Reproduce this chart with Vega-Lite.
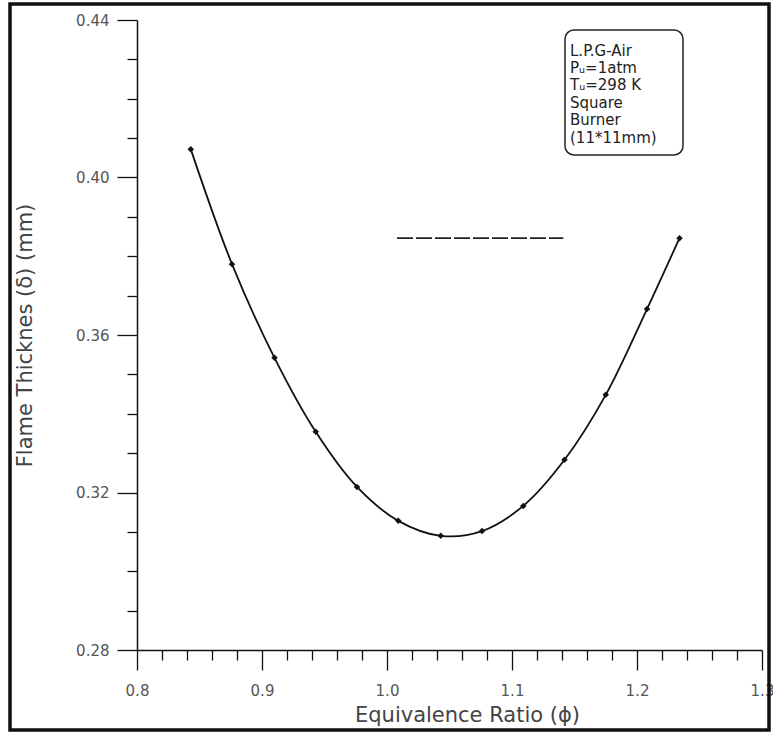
{
  "$schema": "https://vega.github.io/schema/vega-lite/v6.json",
  "width": 625,
  "height": 630,
  "autosize": "none",
  "padding": {"left": 137, "top": 20, "right": 11, "bottom": 87},
  "background": "white",
  "config": {"view": {"stroke": null}, "font": "DejaVu Sans", "axis": {"grid": false}},
  "datasets": {
    "curve": [
      {"phi": 0.843, "delta": 0.4072},
      {"phi": 0.876, "delta": 0.378},
      {"phi": 0.91, "delta": 0.3542},
      {"phi": 0.943, "delta": 0.3354},
      {"phi": 0.976, "delta": 0.3214},
      {"phi": 1.009, "delta": 0.3128},
      {"phi": 1.043, "delta": 0.309},
      {"phi": 1.076, "delta": 0.3102},
      {"phi": 1.109, "delta": 0.3166},
      {"phi": 1.142, "delta": 0.3283},
      {"phi": 1.175, "delta": 0.3448},
      {"phi": 1.208, "delta": 0.3666},
      {"phi": 1.234, "delta": 0.3846}
    ],
    "frame": [{"phi": 0.6984, "phi2": 1.3056, "delta": 0.44406, "delta2": 0.25968}],
    "box": [{"phi": 1.1424, "phi2": 1.2368, "delta": 0.43746, "delta2": 0.40571}],
    "stray": [{"phi": 1.008, "delta": 0.3846}, {"phi": 1.141, "delta": 0.3846}],
    "legend": [
      {"label": "L.P.G-Air", "phi": 1.1464, "delta": 0.43225},
      {"label": "Pᵤ=1atm", "phi": 1.1464, "delta": 0.42781},
      {"label": "Tᵤ=298 K", "phi": 1.1464, "delta": 0.42337},
      {"label": "Square", "phi": 1.1464, "delta": 0.41892},
      {"label": "Burner", "phi": 1.1464, "delta": 0.41448},
      {"label": "(11*11mm)", "phi": 1.1464, "delta": 0.41003}
    ]
  },
  "encoding": {
    "x": {
      "field": "phi", "type": "quantitative",
      "scale": {"domain": [0.8, 1.3], "nice": false, "zero": false},
      "axis": {
        "title": "Equivalence Ratio (ϕ)",
        "grid": false,
        "values": [0.8, 0.82, 0.84, 0.86, 0.88, 0.9, 0.92, 0.94, 0.96, 0.98, 1.0, 1.02, 1.04, 1.06, 1.08, 1.1, 1.12, 1.14, 1.16, 1.18, 1.2, 1.22, 1.24, 1.26, 1.28, 1.3],
        "labelExpr": "abs(round(datum.value*10)-datum.value*10)<0.001 ? format(datum.value,'.1f') : ''",
        "tickSize": {"condition": {"test": "abs(round(datum.value*10)-datum.value*10)<0.001", "value": 20}, "value": 10},
        "labelPadding": 13,
        "labelFont": "DejaVu Sans",
        "labelFontSize": 15,
        "labelColor": "#555",
        "labelOverlap": false,
        "labelFlush": false,
        "titleFont": "DejaVu Sans",
        "titleFontSize": 21,
        "titleFontWeight": "normal",
        "titleColor": "#444",
        "titleX": 330,
        "titleY": 65,
        "titleBaseline": "middle",
        "domainColor": "#111",
        "domainWidth": 1.5,
        "tickColor": "#111",
        "tickWidth": 1.3
      }
    },
    "y": {
      "field": "delta", "type": "quantitative",
      "scale": {"domain": [0.28, 0.44], "nice": false, "zero": false},
      "axis": {
        "title": "Flame Thicknes  (δ) (mm)",
        "grid": false,
        "values": [0.28, 0.29, 0.3, 0.31, 0.32, 0.33, 0.34, 0.35, 0.36, 0.37, 0.38, 0.39, 0.4, 0.41, 0.42, 0.43, 0.44],
        "labelExpr": "abs(round(datum.value*25)-datum.value*25)<0.001 ? format(datum.value,'.2f') : ''",
        "tickSize": {"condition": {"test": "abs(round(datum.value*25)-datum.value*25)<0.001", "value": 20}, "value": 10},
        "labelPadding": 8,
        "labelFont": "DejaVu Sans",
        "labelFontSize": 15,
        "labelColor": "#555",
        "labelOverlap": false,
        "labelFlush": false,
        "titleFont": "DejaVu Sans",
        "titleFontSize": 21,
        "titleFontWeight": "normal",
        "titleColor": "#444",
        "titleX": -112,
        "titleY": 315,
        "titleBaseline": "middle",
        "domainColor": "#111",
        "domainWidth": 1.5,
        "tickColor": "#111",
        "tickWidth": 1.3
      }
    }
  },
  "layer": [
    {
      "data": {"name": "curve"},
      "mark": {"type": "line", "interpolate": "catmull-rom", "color": "#111", "strokeWidth": 1.8}
    },
    {
      "data": {"name": "curve"},
      "mark": {"type": "point", "filled": true, "shape": "diamond", "size": 42, "color": "#111", "opacity": 1}
    },
    {
      "data": {"name": "stray"},
      "mark": {"type": "line", "color": "#222", "strokeWidth": 1.6, "strokeDash": [16, 3]}
    },
    {
      "data": {"name": "frame"},
      "mark": {"type": "rect", "fill": null, "stroke": "#111", "strokeWidth": 3.5},
      "encoding": {
        "x2": {"field": "phi2"},
        "y2": {"field": "delta2"}
      }
    },
    {
      "data": {"name": "box"},
      "mark": {"type": "rect", "fill": "white", "stroke": "#222", "strokeWidth": 1.5, "cornerRadius": 9},
      "encoding": {
        "x2": {"field": "phi2"},
        "y2": {"field": "delta2"}
      }
    },
    {
      "data": {"name": "legend"},
      "mark": {"type": "text", "align": "left", "baseline": "middle", "fontSize": 15, "font": "DejaVu Sans", "color": "#222"},
      "encoding": {
        "text": {"field": "label"}
      }
    }
  ]
}
